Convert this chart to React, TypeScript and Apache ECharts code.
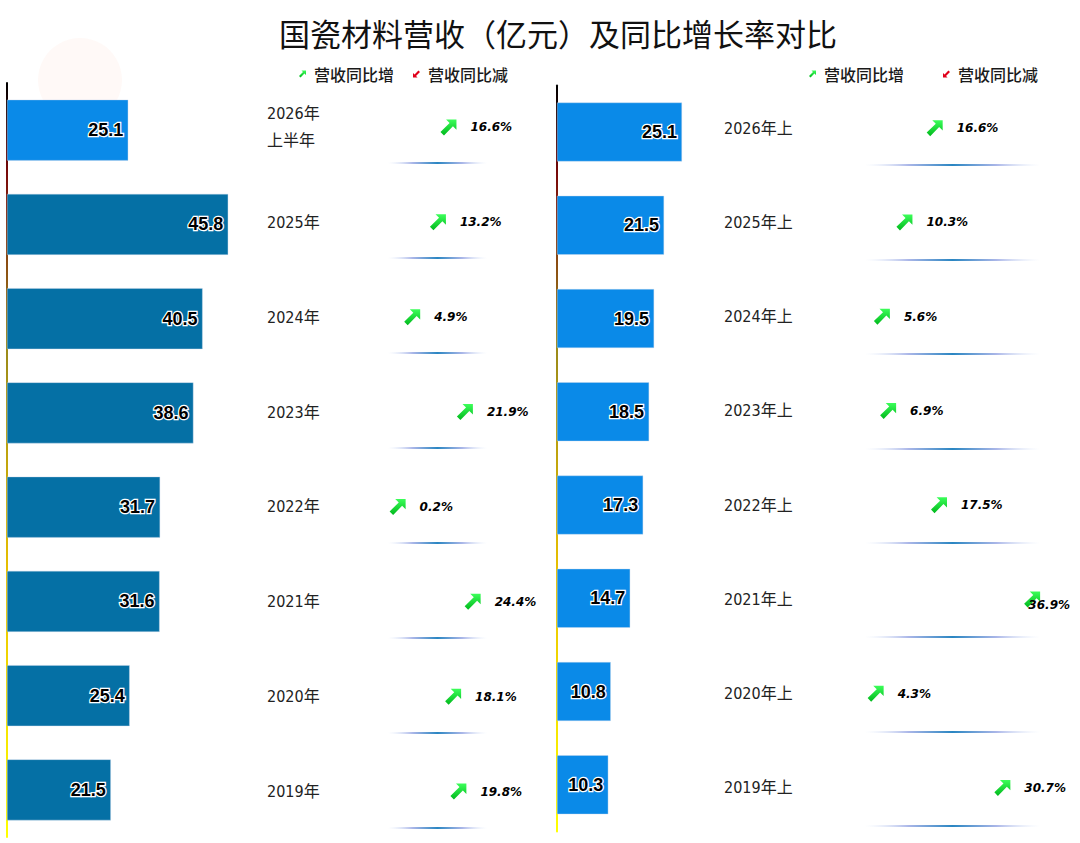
import React, { useEffect, useRef } from "react";
import * as echarts from "echarts";

const titleText = "国瓷材料营收（亿元）及同比增长率对比";
const legendNames = ["营收同比增", "营收同比减"];

const leftCategories = ["2026年\n上半年", "2025年", "2024年", "2023年", "2022年", "2021年", "2020年", "2019年"];
const leftRevenue = [25.1, 45.8, 40.5, 38.6, 31.7, 31.6, 25.4, 21.5];
const leftGrowth = [16.6, 13.2, 4.9, 21.9, 0.2, 24.4, 18.1, 19.8];

const rightCategories = ["2026年上", "2025年上", "2024年上", "2023年上", "2022年上", "2021年上", "2020年上", "2019年上"];
const rightRevenue = [25.1, 21.5, 19.5, 18.5, 17.3, 14.7, 10.8, 10.3];
const rightGrowth = [16.6, 10.3, 5.6, 6.9, 17.5, 36.9, 4.3, 30.7];

const UP_ARROW = "path://M35,0 L100,0 L100,65 L78,43 L22,100 L0,78 L57,22 Z";
const DOWN_ARROW = "path://M65,100 L0,100 L0,35 L22,57 L78,0 L100,22 L43,78 Z";

const BRIGHT = "#0a8ae8";
const DARK = "#0570a5";
const CAT_FONT = "'Liberation Sans Narrow', 'DejaVu Sans Condensed', 'Noto Sans CJK SC', sans-serif";
const CJK = "'Noto Sans CJK SC', sans-serif";

const GRIDS = [
  { left: 7, top: 83, width: 241.5, height: 754 },
  { left: 557, top: 85.4, width: 249, height: 746 },
  { left: 397, top: 80, width: 93, height: 759 },
  { left: 855, top: 81, width: 192, height: 754 },
  { left: 388, top: 68, width: 99, height: 760 },
  { left: 865, top: 70.6, width: 175, height: 755.4 },
];

export default function App() {
  const ref = useRef<HTMLDivElement>(null);

  useEffect(() => {
    document.body.style.margin = "0";
    const chart = echarts.init(ref.current!, undefined, { renderer: "svg" });
    const W = 1080;

    // global gradients (zero-width lines cannot use bounding-box gradients)
    const axisGradient = (g: { top: number; height: number }) =>
      new echarts.graphic.LinearGradient(
        0,
        g.top,
        0,
        g.top + g.height,
        [
          { offset: 0, color: "#000000" },
          { offset: 0.12, color: "#7a0a0a" },
          { offset: 0.35, color: "#9a8a1a" },
          { offset: 0.65, color: "#e8c000" },
          { offset: 1, color: "#ffff00" },
        ],
        true
      );
    const lineGradient = (g: { left: number; width: number }) =>
      new echarts.graphic.LinearGradient(
        g.left,
        0,
        g.left + g.width,
        0,
        [
          { offset: 0, color: "rgba(225,235,250,0)" },
          { offset: 0.25, color: "#aab6e8" },
          { offset: 0.5, color: "#2a86c2" },
          { offset: 0.75, color: "#aab6e8" },
          { offset: 1, color: "rgba(225,235,250,0)" },
        ],
        true
      );
    const greenFill = new echarts.graphic.LinearGradient(0, 0, 0, 1, [
      { offset: 0, color: "#3cff5a" },
      { offset: 1, color: "#00b81c" },
    ]);

    const hiddenValueX = (gridIndex: number, max: number) => ({
      type: "value",
      gridIndex,
      min: 0,
      max,
      show: false,
    });

    const barY = (gridIndex: number, data: string[]) => ({
      type: "category",
      gridIndex,
      data,
      inverse: true,
      axisLine: { show: true, lineStyle: { color: axisGradient(GRIDS[gridIndex]), width: 2 } },
      axisTick: { show: false },
      axisLabel: { show: false },
      splitLine: { show: false },
    });

    const rateY = (gridIndex: number, data: string[], margin: number) => ({
      type: "category",
      gridIndex,
      data,
      inverse: true,
      axisLine: { show: false },
      axisTick: { show: false },
      axisLabel: {
        show: true,
        interval: 0,
        align: "left",
        margin,
        fontFamily: CAT_FONT,
        fontSize: 16,
        lineHeight: 27,
        color: "#222",
      },
      splitLine: { show: false },
    });

    const lineY = (gridIndex: number, data: string[]) => ({
      type: "category",
      gridIndex,
      data,
      inverse: true,
      axisLine: { show: false },
      axisTick: { show: false, interval: 0 },
      axisLabel: { show: false, interval: 0 },
      splitLine: {
        show: true,
        interval: 0,
        showMinLine: false,
        lineStyle: { color: lineGradient(GRIDS[gridIndex]), width: 2 },
      },
    });

    const barSeries = (idx: number, values: number[], colorFn: (i: number) => string, barWidth: number) => ({
      type: "bar",
      xAxisIndex: idx,
      yAxisIndex: idx,
      data: values,
      barWidth,
      itemStyle: {
        color: (p: any) => colorFn(p.dataIndex),
        borderColor: "rgba(200,215,235,0.8)",
        borderWidth: 0.5,
      },
      label: {
        show: true,
        position: "insideRight",
        distance: 5,
        formatter: (p: any) => p.value.toFixed(1),
        fontFamily: "'Liberation Sans', Arial, sans-serif",
        fontWeight: "bold",
        fontSize: 18,
        color: "#000",
        textBorderColor: "#fff",
        textBorderWidth: 2.5,
      },
      silent: true,
    });

    const rateLabel = {
      show: true,
      position: "right",
      distance: 14,
      formatter: (p: any) => p.value[0].toFixed(1) + "%",
      fontFamily: "'DejaVu Sans', Verdana, sans-serif",
      fontStyle: "italic",
      fontWeight: "bold",
      fontSize: 12,
      color: "#000",
    };

    const rateSeries = (idx: number, rates: number[], cats: string[], up: boolean) => ({
      type: "scatter",
      name: up ? legendNames[0] : legendNames[1],
      xAxisIndex: idx,
      yAxisIndex: idx,
      symbol: up ? UP_ARROW : DOWN_ARROW,
      symbolSize: [16, 16],
      itemStyle: { color: up ? greenFill : "#e0001a", opacity: 1 },
      data: rates
        .map((v, i) => [v, cats[i]])
        .filter((d) => (up ? (d[0] as number) >= 0 : (d[0] as number) < 0)),
      label: rateLabel,
      labelLayout: (params: any) => {
        const r = params.labelRect;
        if (r.x + r.width > W - 10) {
          return { x: W - 10 - r.width, align: "left" };
        }
        return {};
      },
      silent: true,
    });

    const legendCommon = {
      top: 61,
      itemWidth: 7,
      itemHeight: 7,
      textStyle: {
        fontFamily: CJK,
        fontSize: 16,
        fontWeight: 500,
        color: "#1a1a1a",
        padding: [0, 0, 0, 3],
      },
      data: [
        { name: legendNames[0], icon: UP_ARROW },
        { name: legendNames[1], icon: DOWN_ARROW },
      ],
      selectedMode: false,
    };

    chart.setOption({
      animation: false,
      backgroundColor: "#ffffff",
      title: {
        text: titleText,
        left: 274,
        top: 12,
        textStyle: { fontFamily: CJK, fontSize: 31, fontWeight: "normal", color: "#111" },
      },
      legend: [
        { ...legendCommon, left: 294, itemGap: 19 },
        { ...legendCommon, left: 804, itemGap: 39 },
      ],
      graphic: [
        {
          type: "circle",
          shape: { cx: 80, cy: 80, r: 42 },
          style: { fill: "rgba(255,110,80,0.045)" },
          silent: true,
          z: -1,
        },
      ],
      grid: GRIDS,
      xAxis: [
        hiddenValueX(0, 50),
        hiddenValueX(1, 50),
        hiddenValueX(2, 30),
        hiddenValueX(3, 40),
        hiddenValueX(4, 1),
        hiddenValueX(5, 1),
      ],
      yAxis: [
        barY(0, leftCategories),
        barY(1, rightCategories),
        rateY(2, leftCategories, 130),
        rateY(3, rightCategories, 131),
        lineY(4, leftCategories),
        lineY(5, rightCategories),
      ],
      series: [
        barSeries(0, leftRevenue, (i) => (i === 0 ? BRIGHT : DARK), 61),
        barSeries(1, rightRevenue, () => BRIGHT, 59),
        rateSeries(2, leftGrowth, leftCategories, true),
        rateSeries(2, leftGrowth, leftCategories, false),
        rateSeries(3, rightGrowth, rightCategories, true),
        rateSeries(3, rightGrowth, rightCategories, false),
      ],
    });

    return () => {
      chart.dispose();
    };
  }, []);

  return <div ref={ref} style={{ width: 1080, height: 843 }} />;
}
